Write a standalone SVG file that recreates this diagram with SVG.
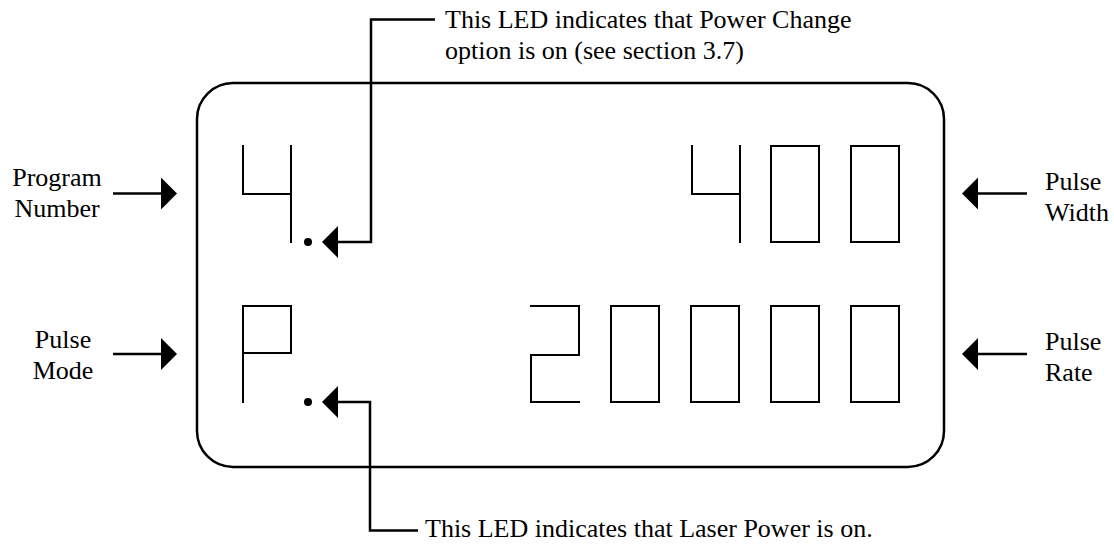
<svg xmlns="http://www.w3.org/2000/svg" width="1114" height="544" viewBox="0 0 1114 544">
<style>
text{font-family:"Liberation Serif","Times New Roman",serif;font-size:26px;fill:#000}
.seg{fill:none;stroke:#000;stroke-width:2;stroke-linecap:square;stroke-linejoin:miter}
.con{fill:none;stroke:#000;stroke-width:2.5}
</style>
<defs>
<marker id="ah" markerUnits="userSpaceOnUse" markerWidth="16" markerHeight="32" viewBox="0 0 16 32" refX="0" refY="16" orient="auto">
<path d="M0,0 L16,16 L0,32 Z" fill="#000"/>
</marker>
</defs>
<rect width="1114" height="544" fill="#fff"/>
<g id="display">
<rect x="197" y="83" width="747" height="384" rx="36" ry="36" fill="none" stroke="#000" stroke-width="2.5"/>
</g>
<g id="program-digit">
<path class="seg" d="M243,146 V194 H291 M291,146 V242"/>
<circle cx="308" cy="242" r="4"/>
</g>
<g id="mode-digit">
<path class="seg" d="M243,402 V306 H291 V353 H243"/>
<circle cx="308" cy="402" r="4"/>
</g>
<g id="width-digits">
<path class="seg" d="M692,146 V194 H740 M740,146 V242"/>
<rect class="seg" x="771" y="146" width="48" height="96"/>
<rect class="seg" x="851" y="146" width="48" height="96"/>
</g>
<g id="rate-digits">
<path class="seg" d="M531,306 H579 V355 H531 V402 H579"/>
<rect class="seg" x="611" y="306" width="48" height="96"/>
<rect class="seg" x="691" y="306" width="48" height="96"/>
<rect class="seg" x="771" y="306" width="48" height="96"/>
<rect class="seg" x="851" y="306" width="48" height="96"/>
</g>
<g id="connectors">
<path class="con" d="M113,193.5 H161" marker-end="url(#ah)"/>
<path class="con" d="M113,354 H161" marker-end="url(#ah)"/>
<path class="con" d="M1027,193.5 H978" marker-end="url(#ah)"/>
<path class="con" d="M1027,354 H978" marker-end="url(#ah)"/>
<path class="con" d="M435,19.5 H371 V242 H338" marker-end="url(#ah)"/>
<path class="con" d="M418,530.5 H370 V402 H338" marker-end="url(#ah)"/>
</g>
<g id="label-program">
<text x="57" y="186" text-anchor="middle">Program</text>
<text x="57" y="217" text-anchor="middle">Number</text>
</g>
<g id="label-mode">
<text x="63" y="348" text-anchor="middle">Pulse</text>
<text x="63" y="379" text-anchor="middle">Mode</text>
</g>
<g id="label-width">
<text x="1045" y="190">Pulse</text>
<text x="1045" y="221">Width</text>
</g>
<g id="label-rate">
<text x="1045" y="350">Pulse</text>
<text x="1045" y="381">Rate</text>
</g>
<g id="label-power-change">
<text x="445" y="28">This LED indicates that Power Change</text>
<text x="445" y="59">option is on (see section 3.7)</text>
</g>
<g id="label-laser">
<text x="425" y="537">This LED indicates that Laser Power is on.</text>
</g>
</svg>
